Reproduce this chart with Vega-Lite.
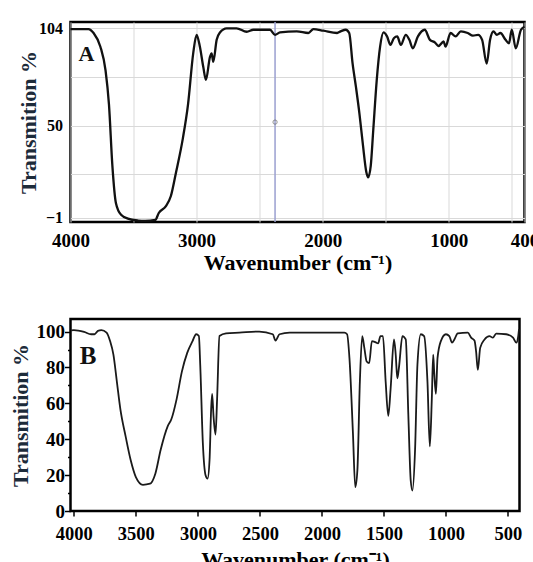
{
  "$schema": "https://vega.github.io/schema/vega-lite/v6.json",
  "background": "white",
  "padding": {"top": 19, "left": -2.5, "right": 0, "bottom": 0},
  "spacing": 42,
  "columns": 1,
  "align": "none",
  "center": false,
  "config": {
    "font": "Liberation Serif",
    "view": {"stroke": "#000", "strokeWidth": 2.5},
    "axis": {
      "labelFont": "Liberation Serif",
      "labelFontWeight": "bold",
      "labelColor": "#000",
      "titleFont": "Liberation Serif",
      "titleFontWeight": "bold",
      "titleColor": "#000",
      "domain": false,
      "labelOverlap": false,
      "labelFlush": false
    }
  },
  "datasets": {
    "a": [
      {"wn": 4000, "T": 103.6}, {"wn": 3981, "T": 103.6}, {"wn": 3858, "T": 103.6}, {"wn": 3817, "T": 101.4},
      {"wn": 3763, "T": 93.8}, {"wn": 3722, "T": 80.6}, {"wn": 3695, "T": 61.8}, {"wn": 3668, "T": 27.9},
      {"wn": 3640, "T": 7.2}, {"wn": 3599, "T": 0.6}, {"wn": 3545, "T": -1.5}, {"wn": 3463, "T": -2.6},
      {"wn": 3409, "T": -2.8}, {"wn": 3327, "T": -2.2}, {"wn": 3300, "T": 1.6}, {"wn": 3245, "T": 5.3},
      {"wn": 3204, "T": 11.0}, {"wn": 3163, "T": 24.2}, {"wn": 3109, "T": 43.0}, {"wn": 3068, "T": 61.8},
      {"wn": 3027, "T": 90.1}, {"wn": 3000, "T": 100.4}, {"wn": 2974, "T": 93.8}, {"wn": 2947, "T": 82.5},
      {"wn": 2926, "T": 75.4}, {"wn": 2894, "T": 88.2}, {"wn": 2881, "T": 90.1}, {"wn": 2868, "T": 85.4},
      {"wn": 2841, "T": 97.6}, {"wn": 2815, "T": 101.7}, {"wn": 2762, "T": 104}, {"wn": 2683, "T": 104},
      {"wn": 2603, "T": 102.1}, {"wn": 2550, "T": 103.2}, {"wn": 2418, "T": 103.2}, {"wn": 2378, "T": 100.4},
      {"wn": 2339, "T": 101.7}, {"wn": 2206, "T": 102.3}, {"wn": 2114, "T": 101.4}, {"wn": 2074, "T": 103.6},
      {"wn": 1995, "T": 102.7}, {"wn": 1886, "T": 101.4}, {"wn": 1858, "T": 102.3}, {"wn": 1817, "T": 103.2},
      {"wn": 1790, "T": 101.4}, {"wn": 1763, "T": 84.4}, {"wn": 1736, "T": 71.2}, {"wn": 1708, "T": 56.2},
      {"wn": 1681, "T": 39.2}, {"wn": 1654, "T": 24.2}, {"wn": 1640, "T": 21.3}, {"wn": 1619, "T": 27.9},
      {"wn": 1600, "T": 46.8}, {"wn": 1572, "T": 75.0}, {"wn": 1545, "T": 93.8}, {"wn": 1518, "T": 101.7},
      {"wn": 1490, "T": 99.5}, {"wn": 1463, "T": 94.8}, {"wn": 1436, "T": 98.5}, {"wn": 1409, "T": 99.5},
      {"wn": 1381, "T": 94.8}, {"wn": 1341, "T": 100.4}, {"wn": 1313, "T": 97.6}, {"wn": 1286, "T": 92.9},
      {"wn": 1245, "T": 99.5}, {"wn": 1191, "T": 103.2}, {"wn": 1150, "T": 97.6}, {"wn": 1109, "T": 96.1},
      {"wn": 1082, "T": 94.2}, {"wn": 1041, "T": 96.7}, {"wn": 1027, "T": 93.8}, {"wn": 986, "T": 101.4},
      {"wn": 946, "T": 99.5}, {"wn": 905, "T": 102.3}, {"wn": 850, "T": 101.4}, {"wn": 809, "T": 99.9},
      {"wn": 768, "T": 100.4}, {"wn": 736, "T": 97.6}, {"wn": 700, "T": 84.4}, {"wn": 673, "T": 97.6},
      {"wn": 646, "T": 102.3}, {"wn": 619, "T": 100.4}, {"wn": 591, "T": 101.4}, {"wn": 550, "T": 97.6},
      {"wn": 523, "T": 95.7}, {"wn": 501, "T": 103.2}, {"wn": 469, "T": 92.9}, {"wn": 428, "T": 103.2},
      {"wn": 400, "T": 104.8}
    ],
    "b": [
      {"wn": 4022, "T": 100.6}, {"wn": 4000, "T": 100.8}, {"wn": 3917, "T": 99.8}, {"wn": 3861, "T": 98.5},
      {"wn": 3833, "T": 98.5}, {"wn": 3806, "T": 100.4}, {"wn": 3778, "T": 100.8}, {"wn": 3736, "T": 99.4},
      {"wn": 3708, "T": 94.7}, {"wn": 3681, "T": 87.1}, {"wn": 3653, "T": 72.0}, {"wn": 3625, "T": 56.8},
      {"wn": 3583, "T": 41.7}, {"wn": 3542, "T": 28.4}, {"wn": 3500, "T": 18.9}, {"wn": 3443, "T": 14.6},
      {"wn": 3386, "T": 15.2}, {"wn": 3343, "T": 20.8}, {"wn": 3300, "T": 34.1}, {"wn": 3243, "T": 47.3},
      {"wn": 3214, "T": 51.1}, {"wn": 3171, "T": 62.5}, {"wn": 3129, "T": 77.7}, {"wn": 3086, "T": 88.1},
      {"wn": 3043, "T": 94.7}, {"wn": 3014, "T": 98.5}, {"wn": 2992, "T": 97.5}, {"wn": 2981, "T": 81.4},
      {"wn": 2960, "T": 37.9}, {"wn": 2938, "T": 19.9}, {"wn": 2922, "T": 18.0}, {"wn": 2906, "T": 28.4},
      {"wn": 2893, "T": 56.8}, {"wn": 2885, "T": 65.3}, {"wn": 2874, "T": 53.0}, {"wn": 2858, "T": 42.6},
      {"wn": 2845, "T": 62.5}, {"wn": 2826, "T": 97.5}, {"wn": 2773, "T": 99.0}, {"wn": 2666, "T": 99.4},
      {"wn": 2505, "T": 100}, {"wn": 2396, "T": 98.5}, {"wn": 2374, "T": 95}, {"wn": 2342, "T": 98.5},
      {"wn": 2260, "T": 99.4}, {"wn": 1819, "T": 99.4}, {"wn": 1797, "T": 98.5}, {"wn": 1778, "T": 85.2},
      {"wn": 1750, "T": 43.6}, {"wn": 1731, "T": 13.3}, {"wn": 1714, "T": 22.7}, {"wn": 1694, "T": 72.0},
      {"wn": 1675, "T": 97.5}, {"wn": 1658, "T": 90.9}, {"wn": 1639, "T": 83.3}, {"wn": 1619, "T": 82.4},
      {"wn": 1597, "T": 94.7}, {"wn": 1569, "T": 94.1}, {"wn": 1547, "T": 93.4}, {"wn": 1528, "T": 97.5},
      {"wn": 1508, "T": 97.5}, {"wn": 1486, "T": 72.0}, {"wn": 1465, "T": 53.0}, {"wn": 1446, "T": 68.2},
      {"wn": 1419, "T": 95.6}, {"wn": 1405, "T": 87.1}, {"wn": 1392, "T": 73.9}, {"wn": 1378, "T": 80.5},
      {"wn": 1351, "T": 97.5}, {"wn": 1324, "T": 95.6}, {"wn": 1303, "T": 53.0}, {"wn": 1284, "T": 17.0},
      {"wn": 1270, "T": 11.4}, {"wn": 1249, "T": 34.1}, {"wn": 1230, "T": 81.4}, {"wn": 1203, "T": 98.5},
      {"wn": 1176, "T": 97.5}, {"wn": 1149, "T": 72.0}, {"wn": 1130, "T": 36.0}, {"wn": 1114, "T": 62.5},
      {"wn": 1103, "T": 87.1}, {"wn": 1095, "T": 77.7}, {"wn": 1081, "T": 65.3}, {"wn": 1068, "T": 85.2},
      {"wn": 1041, "T": 94.7}, {"wn": 1000, "T": 98.5}, {"wn": 973, "T": 97.5}, {"wn": 951, "T": 93.8},
      {"wn": 932, "T": 95.6}, {"wn": 905, "T": 99}, {"wn": 824, "T": 99.4}, {"wn": 797, "T": 96.6},
      {"wn": 770, "T": 95}, {"wn": 757, "T": 89}, {"wn": 743, "T": 78.6}, {"wn": 724, "T": 90.9},
      {"wn": 689, "T": 95.6}, {"wn": 649, "T": 97.5}, {"wn": 622, "T": 96.6}, {"wn": 595, "T": 98.9},
      {"wn": 514, "T": 98.5}, {"wn": 459, "T": 96.6}, {"wn": 432, "T": 93.8}, {"wn": 419, "T": 96.6},
      {"wn": 411, "T": 101.3}
    ]
  },
  "concat": [
    {
      "width": 454,
      "height": 200,
      "layer": [
        {
          "data": {"values": [{"wn": 2378}]},
          "mark": {"type": "rule", "color": "#9a9fd0", "strokeWidth": 1.5},
          "encoding": {"x": {"field": "wn", "type": "quantitative"}}
        },
        {
          "data": {"name": "a"},
          "mark": {"type": "line", "color": "#111", "strokeWidth": 2.3, "interpolate": "monotone"},
          "encoding": {
            "x": {
              "field": "wn", "type": "quantitative",
              "scale": {"domain": [400, 4000], "reverse": true, "nice": false, "zero": false},
              "axis": {
                "values": [4000, 3500, 3000, 2500, 2000, 1500, 1000, 500, 400],
                "format": "d",
                "labelExpr": "indexof([4000, 3000, 2000, 1000, 400], datum.value) >= 0 ? datum.label : ''",
                "labelFontSize": 19,
                "labelOverlap": false,
                "ticks": false,
                "labelPadding": 9,
                "grid": true,
                "gridColor": "#d9d9d9",
                "gridWidth": 1,
                "title": "Wavenumber (cm⁻¹)",
                "titleFontSize": 22,
                "titlePadding": 2
              }
            },
            "y": {
              "field": "T", "type": "quantitative",
              "scale": {"domain": [-3.4, 107.5], "nice": false, "zero": false},
              "axis": {
                "values": [-1, 23, 50, 77, 104],
                "labelExpr": "indexof([-1, 50, 104], datum.value) >= 0 ? datum.label : ''",
                "labelFontSize": 16,
                "labelOverlap": false,
                "ticks": false,
                "labelPadding": 8,
                "grid": true,
                "gridColor": "#d9d9d9",
                "gridWidth": 1,
                "title": "Transmition %",
                "titleFontSize": 22,
                "titleColor": "#1d2b3a",
                "titlePadding": -1.5
              }
            }
          }
        },
        {
          "data": {"values": [{"wn": 2378, "T": 52}]},
          "mark": {"type": "point", "filled": false, "color": "#666", "size": 18, "strokeWidth": 1},
          "encoding": {
            "x": {"field": "wn", "type": "quantitative"},
            "y": {"field": "T", "type": "quantitative"}
          }
        },
        {
          "data": {"values": [{"wn": 3937, "T": 90, "label": "A"}]},
          "mark": {"type": "text", "align": "left", "baseline": "middle", "font": "Liberation Serif", "fontWeight": "bold", "fontSize": 22, "color": "#111"},
          "encoding": {
            "x": {"field": "wn", "type": "quantitative"},
            "y": {"field": "T", "type": "quantitative"},
            "text": {"field": "label"}
          }
        }
      ]
    },
    {
      "width": 449,
      "height": 192,
      "resolve": {"axis": {"y": "independent"}},
      "layer": [
        {
          "data": {"name": "b"},
          "mark": {"type": "line", "color": "#1a1a1a", "strokeWidth": 1.8, "interpolate": "monotone"},
          "encoding": {
            "x": {
              "field": "wn", "type": "quantitative",
              "scale": {"domain": [407, 4027], "reverse": true, "nice": false, "zero": false},
              "axis": {
                "values": [4000, 3750, 3500, 3250, 3000, 2750, 2500, 2250, 2000, 1750, 1500, 1250, 1000, 750, 500],
                "format": "d",
                "labelExpr": "datum.value % 500 === 0 ? datum.label : ''",
                "labelFontSize": 18.5,
                "labelOverlap": false,
                "ticks": true,
                "tickSize": 5,
                "tickWidth": 1.5,
                "tickColor": "#000",
                "labelPadding": 8,
                "grid": false,
                "title": "Wavenumber (cm⁻¹)",
                "titleFontSize": 22,
                "titlePadding": 7
              }
            },
            "y": {
              "field": "T", "type": "quantitative",
              "scale": {"domain": [0, 107], "nice": false, "zero": false},
              "axis": {
                "orient": "left",
                "values": [0, 20, 40, 60, 80, 100],
                "format": "d",
                "labelFontSize": 19,
                "labelOverlap": false,
                "ticks": true,
                "tickSize": 6,
                "tickWidth": 1.5,
                "tickColor": "#000",
                "labelPadding": 0,
                "grid": false,
                "title": ["", "Transmition %"],
                "titleLineHeight": 9.3,
                "titleFontSize": 22,
                "titleColor": "#1d2b3a",
                "titlePadding": 4
              }
            }
          }
        },
        {
          "data": {"values": [{"wn": 3952, "T": 86.5, "label": "B"}]},
          "mark": {"type": "text", "align": "left", "baseline": "middle", "font": "Liberation Serif", "fontWeight": "bold", "fontSize": 25, "color": "#111"},
          "encoding": {
            "x": {"field": "wn", "type": "quantitative"},
            "y": {
              "field": "T", "type": "quantitative",
              "axis": {
                "orient": "left",
                "values": [10, 30, 50, 70, 90],
                "labels": false,
                "ticks": true,
                "tickSize": 3,
                "tickWidth": 1.5,
                "tickColor": "#000",
                "grid": false,
                "title": null
              }
            },
            "text": {"field": "label"}
          }
        }
      ]
    }
  ]
}
